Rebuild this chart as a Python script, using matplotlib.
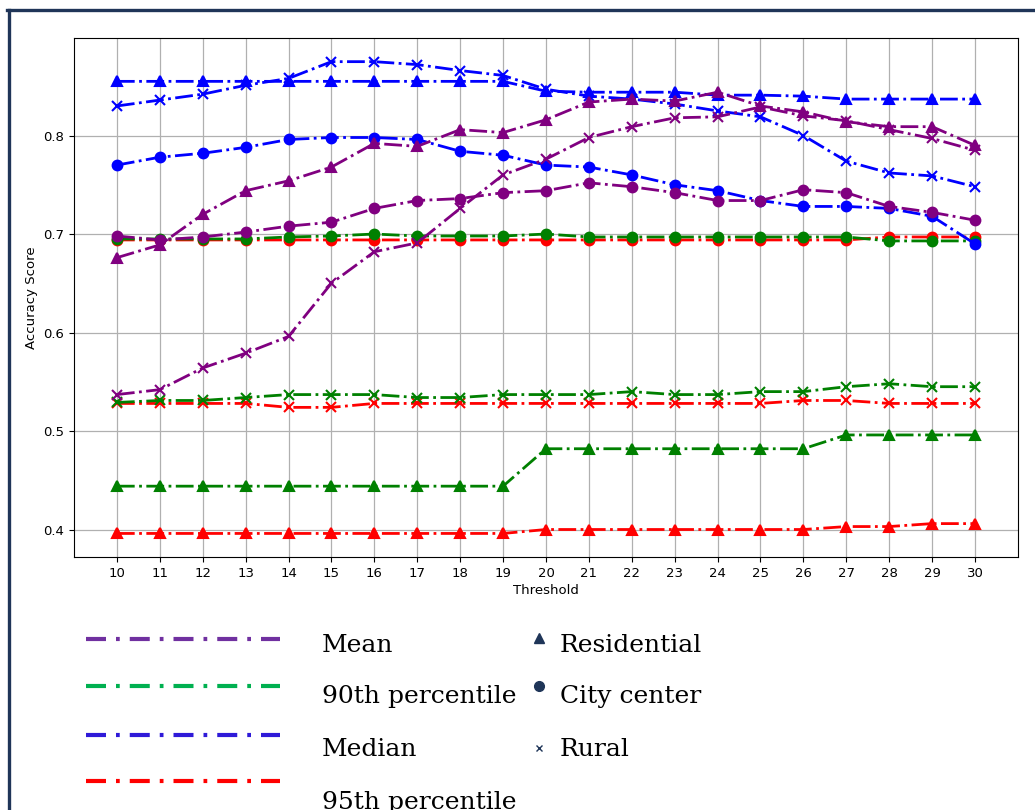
import matplotlib
matplotlib.use("Agg")
import matplotlib.pyplot as plt
from matplotlib.lines import Line2D

# accuracy vs. threshold, one line per (statistic, area type)
thresholds = list(range(10, 31))

mean_res = [0.676, 0.689, 0.720, 0.744, 0.754, 0.768, 0.792, 0.789, 0.806, 0.803, 0.816,
            0.834, 0.837, 0.835, 0.844, 0.830, 0.824, 0.814, 0.809, 0.809, 0.790]
mean_city = [0.698, 0.694, 0.697, 0.702, 0.708, 0.712, 0.726, 0.734, 0.736, 0.742, 0.744,
             0.752, 0.748, 0.742, 0.734, 0.734, 0.745, 0.742, 0.728, 0.722, 0.714]
mean_rural = [0.537, 0.542, 0.564, 0.579, 0.596, 0.650, 0.682, 0.691, 0.726, 0.760, 0.776,
              0.798, 0.809, 0.818, 0.819, 0.829, 0.820, 0.815, 0.806, 0.797, 0.785]

p90_res = [0.444, 0.444, 0.444, 0.444, 0.444, 0.444, 0.444, 0.444, 0.444, 0.444, 0.482,
           0.482, 0.482, 0.482, 0.482, 0.482, 0.482, 0.496, 0.496, 0.496, 0.496]
p90_city = [0.695, 0.695, 0.695, 0.695, 0.697, 0.698, 0.700, 0.698, 0.698, 0.698, 0.700,
            0.697, 0.697, 0.697, 0.697, 0.697, 0.697, 0.697, 0.693, 0.693, 0.693]
p90_rural = [0.529, 0.531, 0.531, 0.534, 0.537, 0.537, 0.537, 0.534, 0.534, 0.537, 0.537,
             0.537, 0.540, 0.537, 0.537, 0.540, 0.540, 0.545, 0.548, 0.545, 0.545]

med_res = [0.855, 0.855, 0.855, 0.855, 0.855, 0.855, 0.855, 0.855, 0.855, 0.855, 0.845,
           0.844, 0.844, 0.844, 0.841, 0.841, 0.840, 0.837, 0.837, 0.837, 0.837]
med_city = [0.770, 0.778, 0.782, 0.788, 0.796, 0.798, 0.798, 0.796, 0.784, 0.780, 0.770,
            0.768, 0.760, 0.750, 0.744, 0.734, 0.728, 0.728, 0.726, 0.718, 0.690]
med_rural = [0.830, 0.836, 0.842, 0.851, 0.858, 0.875, 0.875, 0.872, 0.866, 0.861, 0.847,
             0.840, 0.837, 0.832, 0.825, 0.819, 0.800, 0.774, 0.762, 0.759, 0.748]

p95_res = [0.396, 0.396, 0.396, 0.396, 0.396, 0.396, 0.396, 0.396, 0.396, 0.396, 0.400,
           0.400, 0.400, 0.400, 0.400, 0.400, 0.400, 0.403, 0.403, 0.406, 0.406]
p95_city = [0.694, 0.694, 0.694, 0.694, 0.694, 0.694, 0.694, 0.694, 0.694, 0.694, 0.694,
            0.694, 0.694, 0.694, 0.694, 0.694, 0.694, 0.694, 0.697, 0.697, 0.697]
p95_rural = [0.528, 0.528, 0.528, 0.528, 0.524, 0.524, 0.528, 0.528, 0.528, 0.528, 0.528,
             0.528, 0.528, 0.528, 0.528, 0.528, 0.531, 0.531, 0.528, 0.528, 0.528]

stat_names = ["Mean", "90th percentile", "Median", "95th percentile"]
area_names = ["Residential", "City center", "Rural"]

# drawing order: red first, purple last
series = [
    ("red",    [p95_res, p95_city, p95_rural]),
    ("green",  [p90_res, p90_city, p90_rural]),
    ("blue",   [med_res, med_city, med_rural]),
    ("purple", [mean_res, mean_city, mean_rural]),
]
markers = ["^", "o", "x"]

fig = plt.figure(figsize=(10.35, 8.1), dpi=100)
ax = fig.add_axes([0.0715, 0.3123, 0.912, 0.6407])

for color, vals in series:
    for m, v in zip(markers, vals):
        ax.plot(thresholds, v, linestyle="-.", marker=m, color=color,
                linewidth=2, markersize=7, markeredgewidth=1.5)

ax.set_xticks(thresholds)
ax.set_yticks([0.4, 0.5, 0.6, 0.7, 0.8])
ax.tick_params(labelsize=9.5)
ax.grid(True, color="#b0b0b0", linewidth=0.9)
ax.set_xlabel("Threshold", fontsize=9.5, labelpad=3)
ax.set_ylabel("Accuracy Score", fontsize=9.5)

# hand-made legend below the axes
W, H = 1035.0, 810.0
navy = "#1f3558"
lcolors = ["#7030A0", "#00B050", "#2f1ad8", "#FF0000"]
ly = [639, 686, 735, 781]
ty = [645, 697, 749, 803]
for c, y, t, name in zip(lcolors, ly, ty, stat_names):
    fig.add_artist(Line2D([86 / W, 280 / W], [1 - y / H, 1 - y / H], color=c,
                          linewidth=3, linestyle=(0, (4.8, 2.4, 0.9, 2.4)),
                          solid_capstyle="butt", dash_capstyle="butt"))
    fig.text(322 / W, 1 - t / H, name, family="DejaVu Serif", fontsize=18,
             va="center", ha="left", color="black")

for m, y, name, ms in zip(["^", "o", "x"], [638, 686, 748], area_names, [7, 7, 5]):
    fig.add_artist(Line2D([539 / W], [1 - y / H], marker=m, color=navy,
                          markersize=ms, linestyle="none", markeredgewidth=1))
for y, name in zip([645, 697, 749], area_names):
    fig.text(560 / W, 1 - y / H, name, family="DejaVu Serif", fontsize=18,
             va="center", ha="left", color="black")

# outer frame (only top and left edges fall inside the canvas)
fig.add_artist(Line2D([8.5 / W, 8.5 / W], [0, 1 - 9.5 / H], color=navy, linewidth=2.4))
fig.add_artist(Line2D([7.3 / W, 1], [1 - 9.5 / H, 1 - 9.5 / H], color=navy, linewidth=2.4))

fig.savefig("out.png", dpi=100)
